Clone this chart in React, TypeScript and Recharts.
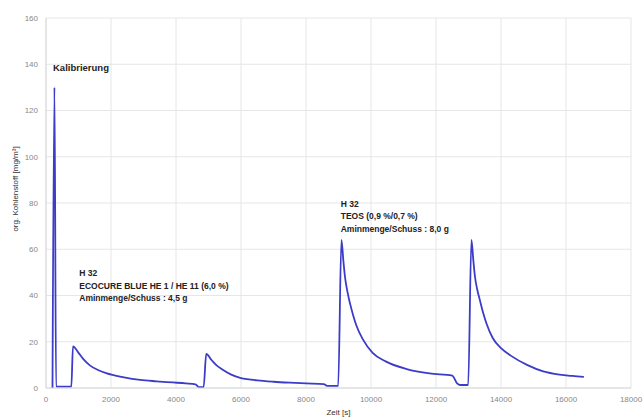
import { LineChart, Line, XAxis, YAxis, CartesianGrid, ReferenceDot } from 'recharts';

// measurement time in seconds
const zeit = [
  200, 260, 310, 780, 830, 1000, 1150, 1350, 1600, 1850, 2400, 2900, 3400, 3900, 4300, 4600, 4700, 4850,
  4930, 5100, 5250, 5450, 5700, 5950, 6500, 7000, 7500, 8000, 8550, 8650, 8990,
  9090, 9150, 9200, 9270, 9350, 9450, 9550, 9750, 10050, 10450, 11100, 11800, 12500, 12650, 12750, 12990,
  13090, 13150, 13200, 13270, 13350, 13450, 13550, 13750, 14000, 14300, 14800, 15300, 15800, 16200, 16550,
];

// organic carbon concentration in mg/m³
const kohlenstoff = [
  0, 130, 0.6, 0.6, 18, 15.2, 12.5, 9.8, 7.8, 6.4, 4.6, 3.5, 2.9, 2.4, 2.0, 1.6, 0.4, 0.4,
  14.7, 12, 9.8, 7.8, 5.8, 4.5, 3.3, 2.7, 2.3, 2.0, 1.7, 0.9, 0.9,
  64, 55, 48, 42, 36.8, 31.5, 27, 21, 15.2, 11.5, 8.2, 6.3, 5.4, 2.0, 1.3, 1.3,
  64, 55, 48, 42.5, 38, 32.5, 28, 21.5, 17.2, 14, 10, 7.2, 5.8, 5.2, 4.8,
];

const xTicks = [0, 2000, 4000, 6000, 8000, 10000, 12000, 14000, 16000, 18000];
const yTicks = [0, 20, 40, 60, 80, 100, 120, 140, 160];

// annotation blocks: anchor in data coordinates, lines of text
const notes = [
  { t: 215, v: 136.9, lines: ['Kalibrierung'] },
  { t: 1025, v: 48.4, lines: ['H 32', 'ECOCURE BLUE HE 1 / HE 11 (6,0 %)', 'Aminmenge/Schuss : 4,5 g'] },
  { t: 9068, v: 78.3, lines: ['H 32', 'TEOS (0,9 %/0,7 %)', 'Aminmenge/Schuss : 8,0 g'] },
];

const data = zeit.map((t, i) => ({ t, c: kohlenstoff[i] }));

const font = 'Liberation Sans, Arial, sans-serif';

const NoteText = ({ viewBox, lines }: any) => {
  const x = viewBox?.x ?? 0;
  const y = viewBox?.y ?? 0;
  return (
    <text x={x} y={y} fontFamily={font} fontSize={lines.length > 1 ? 8.5 : 9.5} fontWeight="bold" fill="#222">
      {lines.map((l: string, i: number) => (
        <tspan key={i} x={x} y={y + i * 12.5}>{l}</tspan>
      ))}
    </text>
  );
};

const App = () => {
  return (
    <div style={{ position: 'absolute', left: 0, top: 0, width: 643, height: 419, background: '#fff' }}>
      <LineChart width={643} height={419} data={data} margin={{ top: 18, right: 12, left: 6, bottom: 12 }}>
        <CartesianGrid stroke="#e6e6e6" />
        <XAxis
          dataKey="t"
          type="number"
          domain={[0, 18000]}
          ticks={xTicks}
          tickLine={false}
          tickSize={0}
          tickMargin={8}
          stroke="#d8d8d8"
          tick={{ fill: '#888', fontSize: 8, fontFamily: font }}
          height={19}
          label={{ value: 'Zeit [s]', position: 'insideBottom', offset: -8, fill: '#333', fontSize: 8, fontFamily: font }}
        />
        <YAxis
          type="number"
          domain={[0, 160]}
          ticks={yTicks}
          tickLine={false}
          tickSize={0}
          tickMargin={8}
          stroke="#d8d8d8"
          width={40}
          tick={{ fill: '#888', fontSize: 8, fontFamily: font }}
        />
        <Line
          dataKey="c"
          type="monotone"
          stroke="#3c3cc8"
          strokeWidth={1.8}
          dot={false}
          isAnimationActive={false}
        />
        {notes.map((n, i) => (
          <ReferenceDot
            key={i}
            x={n.t}
            y={n.v}
            r={0}
            stroke="none"
            fill="none"
            label={(props: any) => <NoteText {...props} lines={n.lines} />}
          />
        ))}
      </LineChart>
      {/* rotated y-axis title */}
      <div
        style={{
          position: 'absolute',
          left: 15,
          top: 189,
          transform: 'translate(-50%, -50%) rotate(-90deg)',
          whiteSpace: 'nowrap',
          fontFamily: font,
          fontSize: 8,
          color: '#333',
        }}
      >
        org. Kohlenstoff [mg/m³]
      </div>
    </div>
  );
};

export default App;
